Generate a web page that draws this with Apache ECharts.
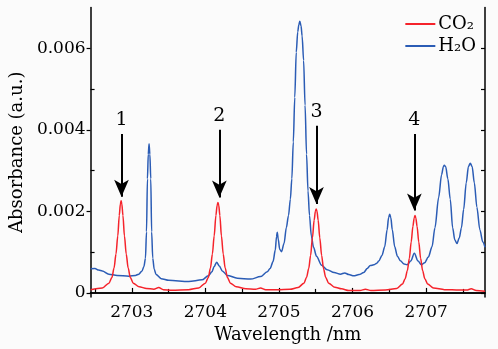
<!DOCTYPE html>
<html>
<head>
<meta charset="utf-8">
<script src="https://cdn.jsdelivr.net/npm/echarts@6.0.0/dist/echarts.min.js"></script>
<style>
  html, body { margin: 0; padding: 0; background: #fbfbfb; }
  #chart { width: 498px; height: 349px; }
</style>
</head>
<body>
<div id="chart"></div>
<script>
// CO2 absorbance
const co2Wavelength = [2702.44, 2702.60, 2702.69, 2702.73, 2702.76, 2702.785, 2702.81, 2702.83, 2702.845, 2702.855,
  2702.865, 2702.88, 2702.90, 2702.925, 2702.95, 2702.98, 2703.02, 2703.10, 2703.20, 2703.30,
  2703.366, 2703.43, 2703.547, 2703.773, 2703.909, 2704.00, 2704.04, 2704.07, 2704.095, 2704.12,
  2704.143, 2704.16, 2704.171, 2704.182, 2704.197, 2704.218, 2704.243, 2704.268, 2704.30, 2704.34,
  2704.42, 2704.55, 2704.68, 2704.75, 2704.82, 2704.977, 2705.15, 2705.26, 2705.34, 2705.375,
  2705.405, 2705.43, 2705.455, 2705.478, 2705.495, 2705.506, 2705.517, 2705.533, 2705.555, 2705.58,
  2705.605, 2705.635, 2705.675, 2705.76, 2705.85, 2705.95, 2706.10, 2706.175, 2706.25, 2706.446,
  2706.60, 2706.68, 2706.715, 2706.745, 2706.772, 2706.797, 2706.82, 2706.838, 2706.849, 2706.86,
  2706.877, 2706.90, 2706.925, 2706.952, 2706.982, 2707.02, 2707.10, 2707.25, 2707.45, 2707.55,
  2707.613, 2707.68, 2707.80];
const co2Absorbance = [0.00008, 0.00012, 0.00024, 0.00038, 0.00062, 0.00095, 0.0014, 0.0019, 0.00218, 0.00226,
  0.00218, 0.0019, 0.0014, 0.00095, 0.00062, 0.00038, 0.00024, 0.00015, 0.00011, 0.00009,
  0.00013, 0.00008, 0.000065, 0.00008, 0.00012, 0.00024, 0.00038, 0.00062, 0.00095, 0.0014,
  0.0019, 0.00215, 0.00222, 0.00215, 0.0019, 0.0014, 0.00095, 0.00062, 0.00038, 0.00024,
  0.00015, 0.0001, 0.00009, 0.00012, 0.00008, 0.00008, 0.00009, 0.00013, 0.00024, 0.00038,
  0.0006, 0.00092, 0.00135, 0.00178, 0.002, 0.00206, 0.002, 0.00178, 0.00135, 0.00092,
  0.0006, 0.00038, 0.00024, 0.00014, 0.0001, 0.00006, 0.00006, 0.00009, 0.00006, 0.00007,
  0.00011, 0.00022, 0.00035, 0.00055, 0.00085, 0.00125, 0.00163, 0.00184, 0.0019, 0.00184,
  0.00163, 0.00125, 0.00085, 0.00055, 0.00035, 0.00022, 0.00012, 0.00008, 0.00007, 0.00007,
  0.0001, 0.00006, 0.00004];

// H2O absorbance
const h2oWavelength = [2702.44, 2702.50, 2702.55, 2702.60, 2702.688, 2702.80, 2702.96, 2703.05, 2703.095, 2703.14,
  2703.165, 2703.186, 2703.20, 2703.213, 2703.224, 2703.235, 2703.246, 2703.258, 2703.27, 2703.285,
  2703.305, 2703.33, 2703.40, 2703.502, 2703.773, 2703.954, 2704.04, 2704.09, 2704.12, 2704.153,
  2704.19, 2704.23, 2704.298, 2704.434, 2704.615, 2704.75, 2704.841, 2704.88, 2704.92, 2704.95,
  2704.967, 2704.977, 2704.99, 2705.01, 2705.035, 2705.07, 2705.10, 2705.13, 2705.155, 2705.175,
  2705.195, 2705.215, 2705.235, 2705.255, 2705.27, 2705.284, 2705.30, 2705.315, 2705.335, 2705.355,
  2705.375, 2705.395, 2705.415, 2705.44, 2705.47, 2705.51, 2705.58, 2705.655, 2705.75, 2705.836,
  2705.894, 2705.95, 2706.016, 2706.09, 2706.152, 2706.20, 2706.24, 2706.29, 2706.33, 2706.356,
  2706.40, 2706.437, 2706.47, 2706.49, 2706.505, 2706.52, 2706.54, 2706.573, 2706.61, 2706.65,
  2706.70, 2706.741, 2706.79, 2706.84, 2706.89, 2706.935, 2706.98, 2707.03, 2707.08, 2707.12,
  2707.17, 2707.21, 2707.235, 2707.247, 2707.265, 2707.295, 2707.328, 2707.36, 2707.39, 2707.419,
  2707.45, 2707.48, 2707.51, 2707.545, 2707.575, 2707.60, 2707.625, 2707.655, 2707.69, 2707.73,
  2707.77, 2707.80];
const h2oAbsorbance = [0.00059, 0.0006, 0.00056, 0.00054, 0.00046, 0.00043, 0.00041, 0.00043, 0.00046, 0.00054,
  0.00065, 0.00085, 0.0015, 0.0028, 0.0034, 0.00366, 0.0034, 0.0028, 0.0015, 0.00085,
  0.00058, 0.00045, 0.00035, 0.00031, 0.00028, 0.00032, 0.00042, 0.00052, 0.00065, 0.00075,
  0.00066, 0.00054, 0.00043, 0.00036, 0.00034, 0.0004, 0.00052, 0.0006, 0.00077, 0.00105,
  0.00138, 0.00149, 0.00132, 0.00107, 0.00101, 0.00122, 0.0016, 0.0019, 0.0023, 0.0028,
  0.0037, 0.0048, 0.0059, 0.0064, 0.00658, 0.00666, 0.00655, 0.0063, 0.0057, 0.0046,
  0.0034, 0.0025, 0.0019, 0.0014, 0.00112, 0.0009, 0.00068, 0.00057, 0.0005, 0.00046,
  0.00049, 0.00045, 0.00042, 0.00045, 0.0005, 0.0006, 0.00067, 0.00069, 0.00073, 0.00078,
  0.00092, 0.00113, 0.00155, 0.00185, 0.00193, 0.00185, 0.00155, 0.00113, 0.0009, 0.00079,
  0.00071, 0.00069, 0.00078, 0.00097, 0.00078, 0.00069, 0.00074, 0.00088, 0.00113, 0.0016,
  0.00234, 0.0029, 0.0031, 0.00313, 0.0031, 0.0028, 0.0023, 0.0016, 0.0013, 0.00121,
  0.00135, 0.0016, 0.00205, 0.0027, 0.0031, 0.00318, 0.0031, 0.0027, 0.0021, 0.00155,
  0.00125, 0.00112];

// arrows marking the CO2 lines
const arrowLabels = ['1', '2', '3', '4'];
const arrowX = [2702.86, 2704.19, 2705.51, 2706.84];
const arrowTop = [0.0039, 0.004, 0.0041, 0.0039];
const arrowTip = [0.00236, 0.00234, 0.00218, 0.00202];

const xMajor = [2703, 2704, 2705, 2706, 2707];
const xMinor = [2702.5, 2703.5, 2704.5, 2705.5, 2706.5, 2707.5];
const yMajor = [0, 0.002, 0.004, 0.006];
const yMinor = [0.001, 0.003, 0.005];
const yAll = [0, 0.001, 0.002, 0.003, 0.004, 0.005, 0.006];

const font = 'DejaVu Serif';
const pairs = (xs, ys) => xs.map((x, i) => [x, ys[i]]);

const xBase = { type: 'value', min: 2702.44, max: 2707.8, splitLine: { show: false } };
const yBase = { type: 'value', min: -0.0001, max: 0.007, splitLine: { show: false } };
const axisLine = { show: true, lineStyle: { color: '#000', width: 1.5 } };

const option = {
  backgroundColor: '#fbfbfb',
  animation: false,
  grid: { left: 90.5, right: 13, top: 7.5, bottom: 48.5 },
  legend: {
    data: ['CO₂', 'H₂O'],
    orient: 'vertical',
    right: 22,
    top: 15,
    padding: 0,
    itemGap: 4,
    icon: 'rect',
    itemWidth: 30,
    itemHeight: 2,
    textStyle: { fontFamily: font, fontSize: 18, color: '#000', padding: [0, 0, 0, -2] }
  },
  xAxis: [
    {
      ...xBase,
      position: 'bottom',
      name: 'Wavelength /nm',
      nameLocation: 'middle',
      nameGap: 29,
      nameTextStyle: { fontFamily: font, fontSize: 18, color: '#000' },
      axisLine,
      axisTick: { show: true, inside: true, length: 5, customValues: xMajor, lineStyle: { color: '#000', width: 1.2 } },
      axisLabel: { customValues: xMajor, fontFamily: font, fontSize: 17, color: '#000', margin: 7, formatter: v => String(v) }
    },
    {
      ...xBase,
      position: 'bottom',
      axisLine: { show: false },
      axisTick: { show: true, inside: true, length: 4, customValues: xMinor, lineStyle: { color: '#000', width: 1.2 } },
      axisLabel: { show: false }
    },
    {
      ...xBase,
      position: 'top',
      axisLine,
      axisTick: { show: false },
      axisLabel: { show: false }
    }
  ],
  yAxis: [
    {
      ...yBase,
      position: 'left',
      name: 'Absorbance (a.u.)',
      nameLocation: 'middle',
      nameGap: 54,
      nameTextStyle: { fontFamily: font, fontSize: 18, color: '#000' },
      axisLine,
      axisTick: { show: true, inside: false, length: 4, customValues: yMajor, lineStyle: { color: '#000', width: 1.2 } },
      axisLabel: {
        customValues: yMajor,
        fontFamily: font, fontSize: 17, color: '#000', margin: 5,
        formatter: v => (v === 0 ? '0' : v.toFixed(3))
      }
    },
    {
      ...yBase,
      position: 'left',
      axisLine: { show: false },
      axisTick: { show: true, inside: true, length: 4, customValues: yMinor, lineStyle: { color: '#000', width: 1.2 } },
      axisLabel: { show: false }
    },
    {
      ...yBase,
      position: 'right',
      axisLine,
      axisTick: { show: true, inside: true, length: 4, customValues: yAll, lineStyle: { color: '#000', width: 1.2 } },
      axisLabel: { show: false }
    }
  ],
  series: [
    {
      name: 'CO₂',
      type: 'line',
      data: pairs(co2Wavelength, co2Absorbance),
      showSymbol: false,
      smooth: 0.3,
      smoothMonotone: 'x',
      color: '#f5232b',
      lineStyle: { width: 1.5 },
      z: 3,
      markLine: {
        silent: true,
        symbol: ['none', 'arrow'],
        symbolSize: [11, 17],
        lineStyle: { color: '#000', width: 2, type: 'solid' },
        label: { show: true, position: 'start', formatter: '{b}', fontFamily: font, fontSize: 19, color: '#000', distance: 4 },
        data: arrowLabels.map((s, i) => [
          { name: s, coord: [arrowX[i], arrowTop[i]] },
          { coord: [arrowX[i], arrowTip[i]] }
        ])
      }
    },
    {
      name: 'H₂O',
      type: 'line',
      data: pairs(h2oWavelength, h2oAbsorbance),
      showSymbol: false,
      smooth: 0.3,
      smoothMonotone: 'x',
      color: '#2b5cb5',
      lineStyle: { width: 1.5 },
      z: 2
    }
  ]
};

const myChart = echarts.init(document.getElementById('chart'));
myChart.setOption(option);
</script>
</body>
</html>
